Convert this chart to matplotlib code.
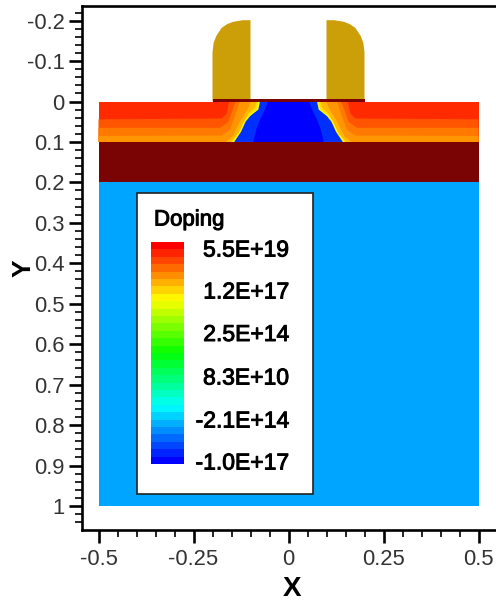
import numpy as np
import matplotlib
matplotlib.use("Agg")
import matplotlib.pyplot as plt
from matplotlib.colors import LinearSegmentedColormap
from matplotlib.patches import Polygon, Rectangle
from matplotlib.ticker import FixedLocator
import matplotlib.patheffects as pe

plt.rcParams['font.family'] = ['Liberation Sans', 'DejaVu Sans']
plt.rcParams['axes.unicode_minus'] = False

W, H = 496, 601
x_major = [-0.5, -0.25, 0, 0.25, 0.5]
x_labels = ['-0.5', '-0.25', '0', '0.25', '0.5']
y_major = [-0.2, -0.1, 0, 0.1, 0.2, 0.3, 0.4, 0.5, 0.6, 0.7, 0.8, 0.9, 1]
y_labels = ['-0.2', '-0.1', '0', '0.1', '0.2', '0.3', '0.4', '0.5', '0.6', '0.7', '0.8', '0.9', '1']
legend_labels = ['5.5E+19', '1.2E+17', '2.5E+14', '8.3E+10', '-2.1E+14', '-1.0E+17']

# spacer outline (left spacer, right one mirrored)
spacer_x = [-0.2, -0.2, -0.197, -0.19, -0.176, -0.162, -0.146, -0.12, -0.1, -0.1]
spacer_y = [0, -0.122, -0.145, -0.162, -0.182, -0.191, -0.197, -0.201, -0.201, 0]

# doping contours, left half, from the source side to the channel
b1 = ([-0.5, -0.176, -0.163, -0.156], [0.044, 0.042, 0.030, 0.0])
b2 = ([-0.5, -0.18, -0.158, -0.146, -0.138], [0.065, 0.065, 0.05, 0.018, 0.0])
b3 = ([-0.5, -0.176, -0.154, -0.141, -0.128], [0.085, 0.084, 0.07, 0.038, 0.0])
b4 = ([-0.165, -0.146, -0.128, -0.108, -0.099], [0.1, 0.085, 0.05, 0.02, 0.0])
b5 = ([-0.152, -0.133, -0.117, -0.105, -0.088, -0.084], [0.1, 0.08, 0.05, 0.03, 0.015, 0.0])
b6 = ([-0.147, -0.129, -0.117, -0.105, -0.084, -0.079], [0.1, 0.076, 0.05, 0.035, 0.02, 0.0])
b7 = ([-0.143, -0.125, -0.113, -0.101, -0.0795, -0.075], [0.1, 0.075, 0.05, 0.036, 0.02, 0.0])
b8 = ([-0.093, -0.084, -0.075, -0.062, -0.054], [0.1, 0.067, 0.045, 0.02, 0.0])
contours = [b1, b2, b3, b4, b5, b6, b7, b8]
contour_colors = ['#ff5500', '#ff7800', '#ff9500', '#ffb800', '#ffe000', '#ffff00', '#0030ff', '#0000ff']

fig = plt.figure(figsize=(W / 100, H / 100), dpi=100)
ax = fig.add_axes([82 / W, 1 - 530 / H, (W - 82) / W, (530 - 6) / H])
ax.set_xlim((82 - 288.5) / 380, (496 - 288.5) / 380)
ax.set_ylim((530 - 101.5) / 404.5, (6 - 101.5) / 404.5)

# substrate, well and source/drain layers
ax.add_patch(Rectangle((-0.5, 0.2), 1.0, 0.8, fc='#00a5ff', ec='none'))
ax.add_patch(Rectangle((-0.5, 0.1), 1.0, 0.1, fc='#7a0404', ec='none'))
ax.add_patch(Rectangle((-0.5, 0.0), 1.0, 0.1, fc='#ff2a00', ec='none'))
for (bx, by), col in zip(contours, contour_colors):
    xs = list(bx) + [-v for v in reversed(bx)]
    ys = list(by) + list(reversed(by))
    pts = list(zip(xs, ys)) + [(-bx[0], 0.1), (bx[0], 0.1)]
    ax.add_patch(Polygon(pts, closed=True, fc=col, ec='none'))
for sign in (1, -1):
    ax.add_patch(Polygon(list(zip(np.array(spacer_x) * sign, spacer_y)), closed=True,
                         fc='#cc9f08', ec='none'))
ax.add_patch(Rectangle((-0.2, -0.007), 0.4, 0.007, fc='#7a0404', ec='none', zorder=3))

# axes styling
for s in ('left', 'top', 'bottom'):
    ax.spines[s].set_linewidth(1.9)
    ax.spines[s].set_color('black')
ax.spines['right'].set_visible(False)
ax.xaxis.set_major_locator(FixedLocator(x_major))
ax.set_xticklabels(x_labels)
ax.yaxis.set_major_locator(FixedLocator(y_major))
ax.set_yticklabels(y_labels)
ax.xaxis.set_minor_locator(FixedLocator(np.arange(-10, 11) * 0.05))
ax.yaxis.set_minor_locator(FixedLocator(np.arange(-11, 53) * 0.02))
ax.tick_params(which='major', length=9.5, width=1.9, labelsize=15.8, labelcolor='#333333')
ax.tick_params(which='minor', length=5, width=1.2)
ax.tick_params(axis='x', which='major', pad=4)
ax.tick_params(axis='y', which='major', pad=3)
fig.text(292 / W, 1 - 588.5 / H, 'X', fontsize=20, fontweight='bold', ha='center', va='center')
fig.text(23.5 / W, 1 - 268 / H, 'Y', fontsize=19, fontweight='bold', rotation=90, ha='center', va='center')

# legend box
bx0, bx1 = (137 - 288.5) / 380, (313 - 288.5) / 380
by0, by1 = (193 - 101.5) / 404.5, (494 - 101.5) / 404.5
ax.add_patch(Rectangle((bx0, by0), bx1 - bx0, by1 - by0, fc='white', ec='#222222', lw=1.2, zorder=5))
stroke = [pe.withStroke(linewidth=0.7, foreground='black')]
fig.text(154 / W, 1 - 220 / H, 'Doping', fontsize=16, va='center', ha='left', path_effects=stroke, zorder=10)

# legend colour bar: 30 flat bands
n_levels = 30
cmap = LinearSegmentedColormap.from_list('tec', ['#0000ff', '#00ffff', '#00ff00', '#ffff00', '#ff0000'], N=n_levels)
cax = fig.add_axes([151 / W, 1 - 464 / H, 33 / W, 222 / H], zorder=10)
cax.pcolormesh([0, 1], np.arange(n_levels + 1), np.arange(n_levels).reshape(-1, 1), cmap=cmap, shading='flat')
cax.axis('off')
label_y = [250, 292, 334.5, 378, 421, 463]
for lab, py in zip(legend_labels, label_y):
    fig.text(289 / W, 1 - py / H, lab, fontsize=16.5, ha='right', va='center', path_effects=stroke, zorder=10)

fig.savefig('out.png', dpi=100)
